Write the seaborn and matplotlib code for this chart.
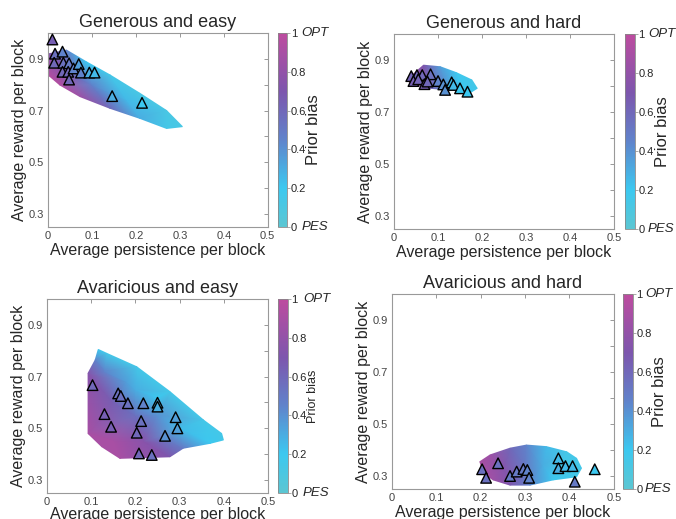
import matplotlib
matplotlib.use("Agg")
import matplotlib.pyplot as plt
import seaborn as sns
import numpy as np
from matplotlib.colors import LinearSegmentedColormap, Normalize
from matplotlib.cm import ScalarMappable
from matplotlib.tri import Triangulation
from matplotlib.path import Path

sns.set_style("white")
plt.rcParams["font.family"] = ["Liberation Sans", "DejaVu Sans"]

# ---- data ----
titles = ["Generous and easy", "Generous and hard",
          "Avaricious and easy", "Avaricious and hard"]

# simulated cloud: boundary points first, then a few interior anchors
ge_cloud_x = [0.003, 0.042, 0.088, 0.141, 0.209, 0.27, 0.306, 0.27, 0.209, 0.141, 0.073, 0.027, 0.003,
              0.04, 0.1, 0.18]
ge_cloud_y = [0.92, 0.934, 0.888, 0.838, 0.767, 0.70, 0.638, 0.631, 0.67, 0.709, 0.754, 0.799, 0.834,
              0.85, 0.80, 0.74]
ge_cloud_bias = [0.75, 0.45, 0.2, 0.15, 0.12, 0.12, 0.12, 0.15, 0.3, 0.6, 0.85, 0.95, 0.95,
                 0.7, 0.45, 0.25]
ge_n_edge = 13

gh_cloud_x = [0.033, 0.067, 0.105, 0.142, 0.177, 0.189, 0.173, 0.127, 0.082, 0.048, 0.035,
              0.07, 0.11, 0.15]
gh_cloud_y = [0.83, 0.88, 0.874, 0.851, 0.823, 0.791, 0.774, 0.785, 0.791, 0.804, 0.812,
              0.83, 0.83, 0.81]
gh_cloud_bias = [0.9, 0.7, 0.35, 0.2, 0.15, 0.15, 0.2, 0.35, 0.65, 0.9, 0.95,
                 0.7, 0.4, 0.2]
gh_n_edge = 11

ae_cloud_x = [0.116, 0.135, 0.203, 0.278, 0.354, 0.395, 0.399, 0.369, 0.308, 0.278, 0.165, 0.124,
              0.093, 0.093, 0.109,
              0.13, 0.18, 0.15, 0.2, 0.25, 0.3, 0.15, 0.22, 0.28, 0.2, 0.25]
ae_cloud_y = [0.805, 0.79, 0.738, 0.642, 0.532, 0.48, 0.455, 0.442, 0.423, 0.39, 0.384, 0.429,
              0.48, 0.713, 0.764,
              0.72, 0.68, 0.6, 0.55, 0.55, 0.5, 0.45, 0.45, 0.45, 0.65, 0.62]
ae_cloud_bias = [0.2, 0.15, 0.15, 0.15, 0.15, 0.15, 0.15, 0.2, 0.5, 0.7, 0.9, 0.9,
                 0.9, 0.75, 0.45,
                 0.45, 0.35, 0.65, 0.55, 0.4, 0.25, 0.9, 0.75, 0.5, 0.3, 0.2]
ae_n_edge = 15

ah_cloud_x = [0.198, 0.221, 0.266, 0.303, 0.348, 0.394, 0.416, 0.427, 0.416, 0.363, 0.311, 0.266,
              0.228, 0.206,
              0.25, 0.3, 0.34, 0.38]
ah_cloud_y = [0.355, 0.381, 0.407, 0.419, 0.413, 0.393, 0.368, 0.33, 0.297, 0.285, 0.265, 0.265,
              0.285, 0.31,
              0.33, 0.34, 0.34, 0.34]
ah_cloud_bias = [0.9, 0.85, 0.6, 0.45, 0.25, 0.15, 0.15, 0.15, 0.15, 0.2, 0.45, 0.7,
                 0.85, 0.9,
                 0.75, 0.5, 0.3, 0.15]
ah_n_edge = 14

# participants (triangles)
ge_subj_x = [0.01, 0.016, 0.033, 0.014, 0.035, 0.048, 0.033, 0.046, 0.048, 0.058, 0.07, 0.075,
             0.094, 0.106, 0.146, 0.214]
ge_subj_y = [0.975, 0.92, 0.928, 0.885, 0.885, 0.883, 0.85, 0.85, 0.82, 0.863, 0.88, 0.847,
             0.847, 0.847, 0.756, 0.73]
ge_subj_bias = [0.65, 0.55, 0.45, 0.6, 0.55, 0.5, 0.6, 0.6, 0.6, 0.45, 0.35, 0.45,
                0.3, 0.25, 0.3, 0.2]

gh_subj_x = [0.039, 0.052, 0.064, 0.083, 0.044, 0.055, 0.069, 0.076, 0.1, 0.112, 0.116, 0.131,
             0.135, 0.15, 0.167]
gh_subj_y = [0.838, 0.842, 0.842, 0.845, 0.819, 0.826, 0.807, 0.817, 0.819, 0.806, 0.785, 0.814,
             0.804, 0.791, 0.778]
gh_subj_bias = [0.62, 0.6, 0.6, 0.55, 0.65, 0.62, 0.65, 0.6, 0.45, 0.4, 0.4, 0.25,
                0.25, 0.2, 0.2]

ae_subj_x = [0.103, 0.161, 0.167, 0.183, 0.218, 0.25, 0.25, 0.13, 0.213, 0.291, 0.145, 0.295,
             0.203, 0.267, 0.208, 0.237]
ae_subj_y = [0.667, 0.635, 0.625, 0.597, 0.597, 0.599, 0.584, 0.555, 0.528, 0.543, 0.506, 0.5,
             0.483, 0.471, 0.403, 0.397]
ae_subj_bias = [0.6, 0.55, 0.55, 0.55, 0.45, 0.3, 0.3, 0.65, 0.55, 0.35, 0.65, 0.35,
                0.6, 0.4, 0.6, 0.55]

ah_subj_x = [0.203, 0.212, 0.239, 0.266, 0.281, 0.296, 0.305, 0.309, 0.375, 0.375, 0.391, 0.407,
             0.412, 0.457]
ah_subj_y = [0.326, 0.293, 0.349, 0.30, 0.317, 0.327, 0.323, 0.293, 0.368, 0.33, 0.338, 0.338,
             0.278, 0.326]
ah_subj_bias = [0.55, 0.55, 0.55, 0.5, 0.5, 0.5, 0.45, 0.45, 0.25, 0.3, 0.25, 0.25,
                0.5, 0.2]

x_ticks = [0, 0.1, 0.2, 0.3, 0.4, 0.5]
x_ticklabels = ["0", "0.1", "0.2", "0.3", "0.4", "0.5"]
y_ticks = [0.3, 0.5, 0.7, 0.9]
cb_ticks = [0, 0.2, 0.4, 0.6, 0.8, 1]
cb_ticklabels = ["0", "0.2", "0.4", "0.6", "0.8", "1"]

bias_cmap = LinearSegmentedColormap.from_list(
    "bias", [(0, "#5CC6D2"), (0.2, "#3CC8F0"), (0.45, "#6083CB"),
             (0.7, "#7D56AD"), (1, "#BD4C9F")])
norm = Normalize(0, 1)

panels = [
    (ge_cloud_x, ge_cloud_y, ge_cloud_bias, ge_n_edge, ge_subj_x, ge_subj_y, ge_subj_bias),
    (gh_cloud_x, gh_cloud_y, gh_cloud_bias, gh_n_edge, gh_subj_x, gh_subj_y, gh_subj_bias),
    (ae_cloud_x, ae_cloud_y, ae_cloud_bias, ae_n_edge, ae_subj_x, ae_subj_y, ae_subj_bias),
    (ah_cloud_x, ah_cloud_y, ah_cloud_bias, ah_n_edge, ah_subj_x, ah_subj_y, ah_subj_bias),
]

# layout in figure fractions: axes rect, colorbar rect
ax_rects = [[0.071, 0.5626, 0.325, 0.3738], [0.583, 0.5588, 0.325, 0.3757],
            [0.0695, 0.0501, 0.327, 0.3738], [0.580, 0.0578, 0.328, 0.3757]]
cb_rects = [[0.411, 0.5626, 0.0140, 0.3738], [0.9246, 0.5588, 0.0148, 0.3757],
            [0.411, 0.0501, 0.0148, 0.3738], [0.9216, 0.0578, 0.0148, 0.3757]]
label_sizes = [12, 12, 9, 12]
label_x = [3.8, 3.7, 3.5, 3.65]
optpes_x = [2.5, 2.3, 2.5, 2.2]
xlabel_pads = [1, 1, 0, 1]

fig = plt.figure(figsize=(6.76, 5.19), dpi=100)

for i, (cx, cy, cb, n_edge, sx, sy, sb) in enumerate(panels):
    ax = fig.add_axes(ax_rects[i])

    # cloud: triangulate and drop triangles that fall outside the boundary
    tri = Triangulation(cx, cy)
    edge = Path(np.column_stack([cx[:n_edge], cy[:n_edge]]))
    tx = np.asarray(cx)[tri.triangles].mean(axis=1)
    ty = np.asarray(cy)[tri.triangles].mean(axis=1)
    tri.set_mask(~edge.contains_points(np.column_stack([tx, ty])))
    ax.tripcolor(tri, cb, shading="gouraud", cmap=bias_cmap, norm=norm, zorder=1)

    sns.scatterplot(x=sx, y=sy, hue=sb, palette=bias_cmap, hue_norm=(0, 1),
                    marker="^", s=58, edgecolor="black", linewidth=1.0,
                    legend=False, ax=ax, zorder=3, clip_on=False)

    ax.set_xlim(0, 0.5)
    ax.set_ylim(0.25, 1.0)
    ax.set_xticks(x_ticks)
    ax.set_xticklabels(x_ticklabels)
    ax.set_yticks(y_ticks)
    ax.set_yticks([0.4, 0.6, 0.8], minor=True)
    ax.tick_params(which="both", direction="in", top=True, right=True,
                   length=3, width=0.6, color="#888888",
                   labelsize=8, labelcolor="#444444", pad=3)
    for sp in ax.spines.values():
        sp.set_color("#999999")
        sp.set_linewidth(0.8)
    ax.set_title(titles[i], fontsize=13, pad=4)
    ax.set_xlabel("Average persistence per block", fontsize=11.5, labelpad=xlabel_pads[i])
    ax.set_ylabel("Average reward per block", fontsize=11.5, labelpad=1)

    cax = fig.add_axes(cb_rects[i])
    cbar = fig.colorbar(ScalarMappable(norm=norm, cmap=bias_cmap), cax=cax)
    cbar.set_ticks(cb_ticks)
    cbar.set_ticklabels(cb_ticklabels)
    cbar.outline.set_edgecolor("#888888")
    cbar.outline.set_linewidth(0.6)
    cax.tick_params(labelsize=8, length=2, width=0.5, color="#888888", pad=0.5)
    cax.text(label_x[i], 0.5, "Prior bias", rotation=90, fontsize=label_sizes[i],
             ha="center", va="center", transform=cax.transAxes)
    cax.text(optpes_x[i], 1.0, "OPT", style="italic", fontsize=9.5,
             ha="left", va="center", transform=cax.transAxes)
    cax.text(optpes_x[i], 0.0, "PES", style="italic", fontsize=9.5,
             ha="left", va="center", transform=cax.transAxes)

fig.savefig("out.png", dpi=100)
